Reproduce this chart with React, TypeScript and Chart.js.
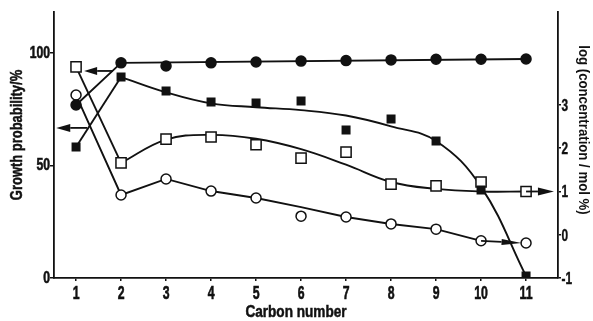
import React, { useEffect, useRef } from "react";
import { Chart, registerables } from "chart.js";

Chart.register(...registerables);

// ---------- data ----------
const carbonNumbers = [1, 2, 3, 4, 5, 6, 7, 8, 9, 10, 11];
const leftTicks = [0, 50, 100];
const rightTicks = [-1, 0, 1, 2, 3];

// growth probability / % (left axis)
const growthFilledCircles = [76.9, 95.6, 94.2, 95.6, 96.0, 96.4, 96.6, 96.9, 97.2, 97.2, 97.3];
const growthFilledSquares = [58.2, 89.3, 83.1, 78.2, 77.8, 78.7, 65.8, 70.7, 60.9, 39.1, 0.9];

// log(concentration / mol %) (right axis)
const logConcOpenSquares = [3.88, 1.66, 2.21, 2.26, 2.08, 1.77, 1.91, 1.17, 1.13, 1.22, 1.0];
const logConcOpenCircles = [3.23, 0.92, 1.29, 1.01, 0.85, 0.43, 0.41, 0.25, 0.13, -0.14, -0.19];

// drawn lines
const filledCircleLineX = [1, 2, 11];
const filledCircleLineY = [76.9, 95.6, 97.3];

const filledSquareStartX = [1, 2];
const filledSquareStartY = [58.2, 89.3];
const filledSquareCurveX = [2, 3, 4, 5, 6, 7, 8, 9, 10, 11];
const filledSquareCurveY = [89.3, 82.5, 77.6, 75.9, 74.6, 72.2, 67.4, 60.9, 40.5, 0.9];

const openSquareStartX = [1, 2];
const openSquareStartY = [3.88, 1.66];
const openSquareCurveX = [2, 3, 4, 5, 6, 7, 8, 9, 10, 11];
const openSquareCurveY = [1.66, 2.2, 2.31, 2.22, 1.98, 1.62, 1.22, 1.06, 1.0, 1.0];

const openCircleLineX = [1, 2, 3, 4, 5, 6, 7, 8, 9, 10];
const openCircleLineY = [3.23, 0.92, 1.29, 1.01, 0.85, 0.64, 0.41, 0.25, 0.13, -0.14];

// arrows: axis, x from, y from, x to (tip), y to, head length, head half-width
const arrowAxis = ["y", "y", "y2", "y2"];
const arrowX0 = [1.82, 1.25, 11.0, 10.0];
const arrowY0 = [92.0, 66.7, 1.0, -0.14];
const arrowX1 = [1.18, 0.56, 11.62, 10.9];
const arrowY1 = [92.0, 66.7, 1.0, -0.19];
const arrowHeadLen = [13, 14, 16, 20];
const arrowHeadHalf = [4, 4, 4, 3];

// texts
const xTitle = "Carbon number";
const leftTitle = "Growth probability/%";
const rightTitle = "log (concentration / mol %)";

const INK = "#111111";
const FAMILY = "'Liberation Sans', Arial, sans-serif";

const pts = (xs: number[], ys: number[]) => xs.map((x, i) => ({ x, y: ys[i] }));

const arrowPlugin = {
  id: "arrows",
  afterDatasetsDraw(chart: any) {
    const { ctx, scales } = chart;
    ctx.save();
    ctx.strokeStyle = INK;
    ctx.fillStyle = INK;
    ctx.lineWidth = 1.8;
    for (let i = 0; i < arrowAxis.length; i++) {
      const ys = scales[arrowAxis[i]];
      const x0 = scales.x.getPixelForValue(arrowX0[i]);
      const y0 = ys.getPixelForValue(arrowY0[i]);
      const x1 = scales.x.getPixelForValue(arrowX1[i]);
      const y1 = ys.getPixelForValue(arrowY1[i]);
      const ang = Math.atan2(y1 - y0, x1 - x0);
      const len = arrowHeadLen[i];
      const half = arrowHeadHalf[i];
      const bx = x1 - Math.cos(ang) * len;
      const by = y1 - Math.sin(ang) * len;
      ctx.beginPath();
      ctx.moveTo(x0, y0);
      ctx.lineTo(bx, by);
      ctx.stroke();
      ctx.beginPath();
      ctx.moveTo(x1, y1);
      ctx.lineTo(bx + Math.sin(ang) * half, by - Math.cos(ang) * half);
      ctx.lineTo(bx - Math.sin(ang) * half, by + Math.cos(ang) * half);
      ctx.closePath();
      ctx.fill();
    }
    ctx.restore();
  },
};

// condensed text (no condensed font installed): draw with a horizontal squeeze
function drawText(
  ctx: CanvasRenderingContext2D,
  text: string,
  x: number,
  y: number,
  opts: { size: number; sx: number; rot?: number; align: CanvasTextAlign; baseline: CanvasTextBaseline; stroke?: number }
) {
  ctx.save();
  ctx.translate(x, y);
  if (opts.rot) ctx.rotate(opts.rot);
  ctx.scale(opts.sx, 1);
  ctx.font = `bold ${opts.size}px ${FAMILY}`;
  ctx.fillStyle = INK;
  ctx.strokeStyle = INK;
  ctx.textAlign = opts.align;
  ctx.textBaseline = opts.baseline;
  ctx.fillText(text, 0, 0);
  if (opts.stroke) {
    ctx.lineWidth = opts.stroke;
    ctx.strokeText(text, 0, 0);
  }
  ctx.restore();
}

const textPlugin = {
  id: "condensedText",
  afterDraw(chart: any) {
    const { ctx, scales, chartArea } = chart;
    const { x, y, y2 } = scales;
    for (const v of carbonNumbers) {
      drawText(ctx, String(v), x.getPixelForValue(v), chartArea.bottom + 21, {
        size: 17.5, sx: 0.7, align: "center", baseline: "alphabetic", stroke: 0.6,
      });
    }
    for (const v of leftTicks) {
      drawText(ctx, String(v), chartArea.left - 4, y.getPixelForValue(v) + 5, {
        size: 16, sx: 0.76, align: "right", baseline: "alphabetic", stroke: 0.6,
      });
    }
    for (const v of rightTicks) {
      drawText(ctx, v < 0 ? "-" + Math.abs(v) : String(v), chartArea.right + 3.5, y2.getPixelForValue(v) + 6, {
        size: 16.5, sx: 0.72, align: "left", baseline: "alphabetic", stroke: 0.4,
      });
    }
    drawText(ctx, xTitle, (chartArea.left + chartArea.right) / 2 - 10, chartArea.bottom + 35, {
      size: 16, sx: 0.85, align: "center", baseline: "middle", stroke: 0.5,
    });
    drawText(ctx, leftTitle, 18, (chartArea.top + chartArea.bottom) / 2 - 10, {
      size: 16, sx: 0.81, rot: -Math.PI / 2, align: "center", baseline: "middle", stroke: 0.5,
    });
    drawText(ctx, rightTitle, 583, (chartArea.top + chartArea.bottom) / 2 - 15, {
      size: 15, sx: 0.88, rot: Math.PI / 2, align: "center", baseline: "middle",
    });
  },
};

export default function App() {
  const ref = useRef<HTMLCanvasElement | null>(null);

  useEffect(() => {
    if (!ref.current) return;

    const lineDs = (data: any[], yAxisID: string, tension: number) => ({
      type: "scatter" as const,
      data,
      yAxisID,
      showLine: true,
      borderColor: INK,
      borderWidth: 1.9,
      pointRadius: 0,
      pointHoverRadius: 0,
      tension,
      fill: false,
      order: 2,
    });

    const pointDs = (data: any[], yAxisID: string, style: string, filled: boolean, radius: number) => ({
      type: "scatter" as const,
      data,
      yAxisID,
      showLine: false,
      pointStyle: style,
      pointRadius: radius,
      pointHoverRadius: radius,
      pointBackgroundColor: filled ? INK : "#ffffff",
      pointBorderColor: INK,
      pointBorderWidth: 1.5,
      order: 0,
    });

    const axisCommon = (tickLength: number) => ({
      grid: { drawOnChartArea: false, drawTicks: true, tickLength, color: INK, lineWidth: 1.5 },
      border: { display: true, color: INK, width: 1.8 },
      ticks: { display: false },
      title: { display: false },
    });

    const chart = new Chart(ref.current, {
      type: "scatter",
      data: {
        datasets: [
          lineDs(pts(filledCircleLineX, filledCircleLineY), "y", 0),
          lineDs(pts(filledSquareStartX, filledSquareStartY), "y", 0),
          lineDs(pts(filledSquareCurveX, filledSquareCurveY), "y", 0.4),
          lineDs(pts(openSquareStartX, openSquareStartY), "y2", 0),
          lineDs(pts(openSquareCurveX, openSquareCurveY), "y2", 0.4),
          lineDs(pts(openCircleLineX, openCircleLineY), "y2", 0),
          pointDs(pts(carbonNumbers, growthFilledCircles), "y", "circle", true, 5),
          pointDs(pts(carbonNumbers, growthFilledSquares), "y", "rect", true, 5.3),
          pointDs(pts(carbonNumbers, logConcOpenSquares), "y2", "rect", false, 7.2),
          pointDs(pts(carbonNumbers, logConcOpenCircles), "y2", "circle", false, 5),
        ] as any,
      },
      options: {
        animation: false,
        responsive: false,
        maintainAspectRatio: false,
        layout: { padding: { top: 12, left: 0, right: 0, bottom: 0 } },
        plugins: { legend: { display: false }, tooltip: { enabled: false } },
        scales: {
          x: {
            type: "linear",
            min: 0.51,
            max: 11.71,
            afterBuildTicks: (s: any) => {
              s.ticks = carbonNumbers.map((v) => ({ value: v }));
            },
            afterFit: (s: any) => {
              s.height = 43;
            },
            ...axisCommon(3),
          },
          y: {
            type: "linear",
            position: "left",
            min: 0,
            max: 118.2,
            afterBuildTicks: (s: any) => {
              s.ticks = leftTicks.map((v) => ({ value: v }));
            },
            afterFit: (s: any) => {
              s.width = 54;
            },
            ...axisCommon(4),
          },
          y2: {
            type: "linear",
            position: "right",
            min: -1,
            max: 5.15,
            afterBuildTicks: (s: any) => {
              s.ticks = rightTicks.map((v) => ({ value: v }));
            },
            afterFit: (s: any) => {
              s.width = 35;
            },
            ...axisCommon(3),
          },
        },
      } as any,
      plugins: [arrowPlugin, textPlugin],
    });

    return () => chart.destroy();
  }, []);

  return (
    <div style={{ position: "absolute", left: 0, top: 0, width: 593, height: 321, background: "#fff" }}>
      <canvas ref={ref} width={593} height={321} style={{ display: "block" }} />
    </div>
  );
}
